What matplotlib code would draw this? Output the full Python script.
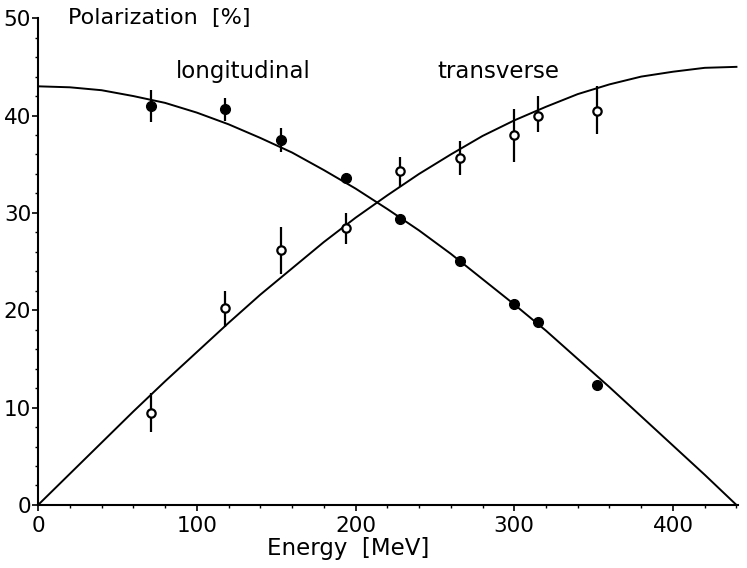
import matplotlib.pyplot as plt
from matplotlib.ticker import MultipleLocator

energy = [71, 118, 153, 194, 228, 266, 300, 315, 352]
long_pol = [41.0, 40.7, 37.5, 33.6, 29.4, 25.1, 20.6, 18.8, 12.3]
long_lo = [1.7, 1.3, 1.2, 0.5, 0.4, 0.4, 0.6, 0.4, 0.3]
long_hi = [1.6, 1.1, 1.2, 0.5, 0.4, 0.4, 0.6, 0.4, 0.3]
trans_pol = [9.4, 20.2, 26.2, 28.4, 34.3, 35.6, 38.0, 40.0, 40.5]
trans_lo = [1.9, 1.9, 2.5, 1.6, 1.6, 1.7, 2.8, 1.7, 2.4]
trans_hi = [2.1, 1.8, 2.3, 1.6, 1.4, 1.8, 2.7, 2.0, 2.5]

curve_e = [0, 20, 40, 60, 80, 100, 120, 140, 160, 180, 200, 220,
           240, 260, 280, 300, 320, 340, 360, 380, 400, 420, 440]
curve_long = [43.0, 42.9, 42.6, 42.0, 41.3, 40.3, 39.1, 37.7, 36.2, 34.4, 32.5, 30.4,
              28.2, 25.8, 23.2, 20.6, 17.9, 15.0, 12.1, 9.1, 6.1, 3.1, 0.0]
curve_trans = [0.0, 3.2, 6.4, 9.6, 12.7, 15.7, 18.7, 21.6, 24.3, 27.0, 29.5, 31.8,
               34.0, 36.0, 37.9, 39.5, 40.9, 42.2, 43.2, 44.0, 44.5, 44.9, 45.0]

fig = plt.figure(figsize=(7.47, 5.68), dpi=100)
ax = fig.add_axes([0.051, 0.111, 0.937, 0.857])

ax.plot(curve_e, curve_long, color="k", lw=1.4, solid_joinstyle="round")
ax.plot(curve_e, curve_trans, color="k", lw=1.4, solid_joinstyle="round")

ax.errorbar(energy, long_pol, yerr=[long_lo, long_hi], fmt="o", color="k",
            ms=7, elinewidth=1.6, capsize=0)
ax.errorbar(energy, trans_pol, yerr=[trans_lo, trans_hi], fmt="o", color="k",
            mfc="white", mec="k", mew=1.6, ms=6, elinewidth=1.6, capsize=0)

ax.text(129, 44.5, "longitudinal", fontsize=16.5, ha="center", va="center")
ax.text(290, 44.5, "transverse", fontsize=16.5, ha="center", va="center")

ax.set_xlim(0, 441)
ax.set_ylim(0, 50)
ax.spines["top"].set_visible(False)
ax.spines["right"].set_visible(False)
for s in ["left", "bottom"]:
    ax.spines[s].set_linewidth(1.5)

ax.xaxis.set_major_locator(MultipleLocator(100))
ax.xaxis.set_minor_locator(MultipleLocator(20))
ax.yaxis.set_major_locator(MultipleLocator(10))
ax.yaxis.set_minor_locator(MultipleLocator(2))
ax.tick_params(axis="both", which="major", direction="out", length=4, width=1.2,
               labelsize=15.5, pad=1)
ax.tick_params(axis="x", which="major", pad=4)
ax.tick_params(axis="both", which="minor", direction="out", length=2.5, width=1)

ax.text(0.043, 1.0, "Polarization  [%]", transform=ax.transAxes, fontsize=16,
        ha="left", va="center")
ax.set_xlabel("Energy  [MeV]", fontsize=16.5, va="center")
ax.xaxis.set_label_coords((348 - 38) / 700, -0.09)

fig.savefig("out.png", dpi=100)
